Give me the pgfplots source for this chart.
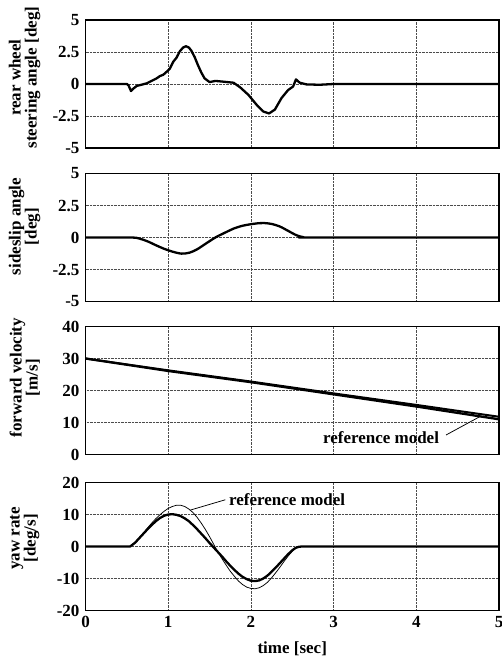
\documentclass[border=0pt]{standalone}
\usepackage{fontspec}
\setmainfont{Liberation Serif}
\usepackage{pgfplots}
\pgfplotsset{compat=1.18}

\newcommand{\lbl}{\bfseries\fontsize{17}{16}\selectfont}

\tikzset{
  thk/.style={black, line width=2.3pt, line join=round},
  thn/.style={black, line width=0.75pt, line join=round},
}

\pgfplotsset{
  panel/.style={
    scale only axis, width=413.5pt, height=128pt,
    anchor=north west,
    xmin=0, xmax=5, xtick={0,1,2,3,4,5},
    grid=major,
    grid style={densely dotted, black!70, line width=0.45pt},
    axis line style={line width=1.1pt},
    tick style={draw=none},
    ticklabel style={font=\lbl},
    yticklabel style={xshift=-2.5pt},
    xticklabel style={yshift=-2.5pt},
    every axis y label/.style={at={(axis description cs:-0.147,0.57)},
      rotate=90, anchor=center, font=\lbl, align=center},
    every axis x label/.style={at={(axis description cs:0.5,0)},
      anchor=base, yshift=-42.5pt, font=\lbl},
  },
}

\begin{document}
\begin{tikzpicture}
\path[use as bounding box] (0,0) rectangle (501pt,-658pt);

% rear wheel steering angle
\begin{axis}[panel, at={(85.5pt,-20pt)},
    ymin=-5, ymax=5, ytick={-5,-2.5,0,2.5,5},
    yticklabels={-5,-2.5,0,2.5,5}, xticklabels={},
    ylabel style={at={(axis description cs:-0.147,0.55)}},
    ylabel={rear wheel\\steering angle [deg]}]
\addplot[thk] coordinates {
  (0,0) (0.50,0) (0.52,-0.1) (0.55,-0.55) (0.58,-0.35) (0.62,-0.15)
  (0.68,-0.05) (0.74,0.05) (0.82,0.31) (0.86,0.44) (0.90,0.62) (0.94,0.72)
  (0.98,0.95) (1.02,1.2) (1.06,1.73) (1.10,2.05) (1.14,2.55) (1.18,2.85)
  (1.215,2.95) (1.25,2.85) (1.28,2.6) (1.32,2.1) (1.36,1.47) (1.40,0.9)
  (1.44,0.44) (1.50,0.15) (1.57,0.24) (1.67,0.18) (1.79,0.1) (1.87,-0.26)
  (1.97,-0.85) (2.07,-1.63) (2.15,-2.15) (2.22,-2.3) (2.29,-2.0)
  (2.37,-1.1) (2.45,-0.47) (2.51,-0.2) (2.545,0.36) (2.59,0.1)
  (2.67,-0.03) (2.83,-0.06) (3,0) (5,0)
};
\end{axis}

% sideslip angle
\begin{axis}[panel, at={(85.5pt,-173.5pt)},
    ymin=-5, ymax=5, ytick={-5,-2.5,0,2.5,5},
    yticklabels={-5,-2.5,0,2.5,5}, xticklabels={},
    ylabel style={at={(axis description cs:-0.147,0.585)}},
    ylabel={sideslip angle\\{[deg]}}]
\addplot[thk, smooth] coordinates {
  (0,0) (0.54,0) (0.65,-0.08) (0.75,-0.3) (0.85,-0.6) (0.95,-0.88)
  (1.05,-1.1) (1.16,-1.26) (1.26,-1.18) (1.35,-0.92) (1.45,-0.5)
  (1.57,0) (1.70,0.42) (1.80,0.72) (1.90,0.92) (2.00,1.04) (2.10,1.12)
  (2.16,1.13) (2.25,1.06) (2.35,0.86) (2.45,0.52) (2.55,0.18)
  (2.64,0.02) (2.75,0) (5,0)
};
\end{axis}

% forward velocity
\begin{axis}[panel, at={(85.5pt,-326.5pt)},
    ymin=0, ymax=40, ytick={0,10,20,30,40},
    yticklabels={0,10,20,30,40}, xticklabels={},
    ylabel style={at={(axis description cs:-0.147,0.6)}},
    ylabel={forward velocity\\{[m/s]}}]
\addplot[black, line width=2pt] coordinates {
  (0,30) (1,26.3) (2,22.8) (3,19.1) (4,15.5) (5,11.8)
};
\addplot[thk] coordinates {
  (0,30) (1,26.1) (2,22.6) (3,18.8) (4,15.0) (5,11.0)
};
\node[font=\lbl, anchor=west, inner sep=0pt] at (axis cs:2.87,5.4) {reference model};
\draw[thn] (axis cs:4.36,6.1) -- (axis cs:4.78,12.0);
\end{axis}

% yaw rate
\begin{axis}[panel, at={(85.5pt,-482.5pt)},
    ymin=-20, ymax=20, ytick={-20,-10,0,10,20},
    yticklabels={-20,-10,0,10,20},
    xticklabels={0,1,2,3,4,5},
    ylabel style={at={(axis description cs:-0.147,0.565)}},
    ylabel={yaw rate\\{[deg/s]}},
    xlabel={time [sec]}]
\addplot[thn] coordinates {
  (0,0) (0.54,0) (0.6,1.3) (0.65,2.7) (0.7,4.2) (0.75,5.8) (0.8,7.3)
  (0.85,8.7) (0.9,9.9) (0.95,11.0) (1.0,11.9) (1.05,12.5) (1.1,12.9)
  (1.15,12.9) (1.2,12.5) (1.25,11.7) (1.3,10.6) (1.35,9.1) (1.4,7.3)
  (1.45,5.3) (1.5,3.1) (1.55,0.7) (1.6,-1.7) (1.65,-3.8) (1.7,-5.8)
  (1.75,-7.7) (1.8,-9.3) (1.85,-10.8) (1.9,-11.9) (1.95,-12.7)
  (2.0,-13.1) (2.05,-13.2) (2.1,-12.9) (2.15,-12.2) (2.2,-11.2)
  (2.25,-9.8) (2.3,-8.2) (2.35,-6.5) (2.4,-4.7) (2.45,-3.0) (2.5,-1.5)
  (2.54,-0.5) (2.58,-0.05) (2.62,0) (5,0)
};
\addplot[thk] coordinates {
  (0,0) (0.54,0) (0.6,1.2) (0.65,2.6) (0.7,4.0) (0.75,5.4) (0.8,6.7)
  (0.85,7.9) (0.9,8.9) (0.95,9.6) (1.0,10.0) (1.05,10.1) (1.1,9.9)
  (1.15,9.5) (1.2,8.8) (1.25,7.9) (1.3,6.7) (1.35,5.4) (1.4,4.0)
  (1.45,2.6) (1.5,1.1) (1.55,-0.3) (1.6,-1.7) (1.65,-3.1) (1.7,-4.6)
  (1.75,-6.0) (1.8,-7.3) (1.85,-8.5) (1.9,-9.5) (1.95,-10.2)
  (2.0,-10.7) (2.05,-10.8) (2.1,-10.6) (2.15,-10.0) (2.2,-9.1)
  (2.25,-7.9) (2.3,-6.6) (2.35,-5.2) (2.4,-3.8) (2.45,-2.4) (2.5,-1.2)
  (2.54,-0.45) (2.58,-0.08) (2.62,0) (5,0)
};
\node[font=\lbl, anchor=west, inner sep=0pt] at (axis cs:1.735,14.6) {reference model};
\draw[thn] (axis cs:1.69,14.6) -- (axis cs:1.27,11.4);
\end{axis}
\end{tikzpicture}
\end{document}
